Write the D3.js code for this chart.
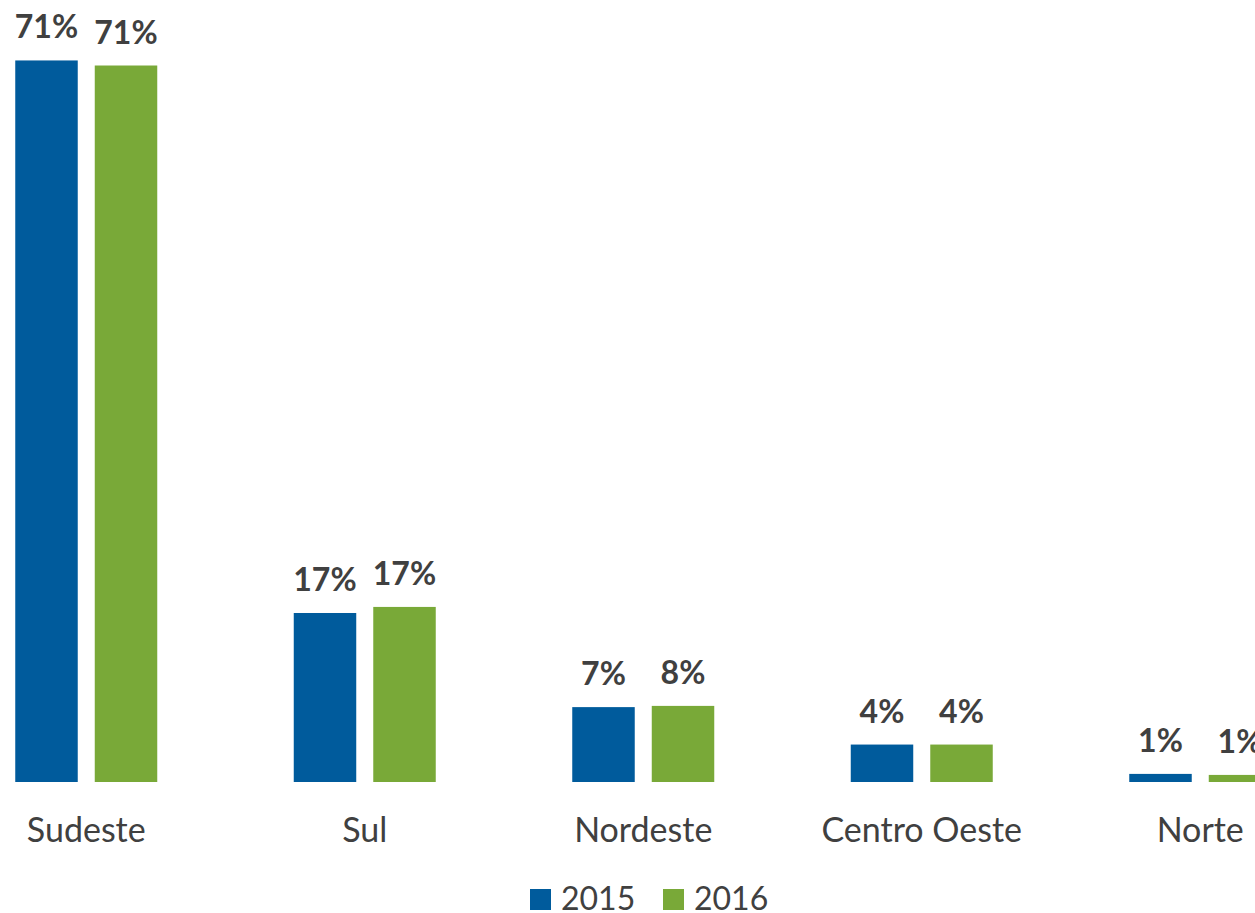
<!DOCTYPE html>
<html>
<head>
<meta charset="utf-8">
<script src="https://cdn.jsdelivr.net/npm/d3@7"></script>
<style>
  body { margin: 0; background: #fff; overflow: hidden; }
  text { font-family: Lato, "Open Sans", sans-serif; fill: #404040; }
</style>
</head>
<body>
<div id="chart"></div>
<script>
// data (percent)
var categories = ["Sudeste", "Sul", "Nordeste", "Centro Oeste", "Norte"];
var years = ["2015", "2016"];
var values2015 = [71.3, 16.7, 7.4, 3.7, 0.8];
var values2016 = [70.8, 17.3, 7.52, 3.7, 0.7];

var colors = { "2015": "#005b9c", "2016": "#79a938" };

var width = 1255, height = 913;
var baseline = 782;

var svg = d3.select("#chart").append("svg")
    .attr("width", width)
    .attr("height", height);

// group scale - last group runs off the right edge like the original
var x0 = d3.scaleBand()
    .domain(categories)
    .range([-53, 1339.5]);

var half = x0.bandwidth() / 2;
var x1 = d3.scaleBand()
    .domain(years)
    .range([half - 71, half + 71])
    .paddingInner(0.214);

var y = d3.scaleLinear()
    .domain([0, 100])
    .range([baseline, baseline - 1012]);

var rows = [];
categories.forEach(function (c, i) {
    rows.push({ category: c, year: "2015", value: values2015[i] });
    rows.push({ category: c, year: "2016", value: values2016[i] });
});

var g = svg.append("g");

g.selectAll("rect")
    .data(rows)
    .enter()
    .append("rect")
    .attr("x", function (d) { return x0(d.category) + x1(d.year); })
    .attr("y", function (d) { return y(d.value); })
    .attr("width", x1.bandwidth())
    .attr("height", function (d) { return y(0) - y(d.value); })
    .style("fill", function (d) { return colors[d.year]; });

// value labels
g.selectAll(".val")
    .data(rows)
    .enter()
    .append("text")
    .attr("class", "val")
    .attr("x", function (d) { return x0(d.category) + x1(d.year) + x1.bandwidth() / 2; })
    .attr("y", function (d) { return y(d.value) - 22; })
    .attr("text-anchor", "middle")
    .style("font-size", "32px")
    .style("font-weight", "bold")
    .text(function (d) { return Math.round(d.value) + "%"; });

// category axis (no line, no ticks)
var xAxis = svg.append("g")
    .attr("transform", "translate(0," + baseline + ")")
    .call(d3.axisBottom(x0).tickSize(0).tickPadding(0));
xAxis.select(".domain").remove();
xAxis.selectAll("text")
    .attr("y", 60)
    .attr("dy", null)
    .style("font-size", "34px")
    .style("fill", "#404040")
    .style("font-family", "Lato, 'Open Sans', sans-serif");

// legend
var legend = svg.append("g")
    .attr("transform", "translate(530,910)");

var item = legend.selectAll(".legend")
    .data(years)
    .enter()
    .append("g")
    .attr("class", "legend")
    .attr("transform", function (d, i) { return "translate(" + (i * 133) + ",0)"; });

item.append("rect")
    .attr("x", 0)
    .attr("y", -21)
    .attr("width", 21)
    .attr("height", 21)
    .style("fill", function (d) { return colors[d]; });

item.append("text")
    .attr("x", 31)
    .attr("y", 0)
    .style("font-size", "32px")
    .text(function (d) { return d; });
</script>
</body>
</html>
